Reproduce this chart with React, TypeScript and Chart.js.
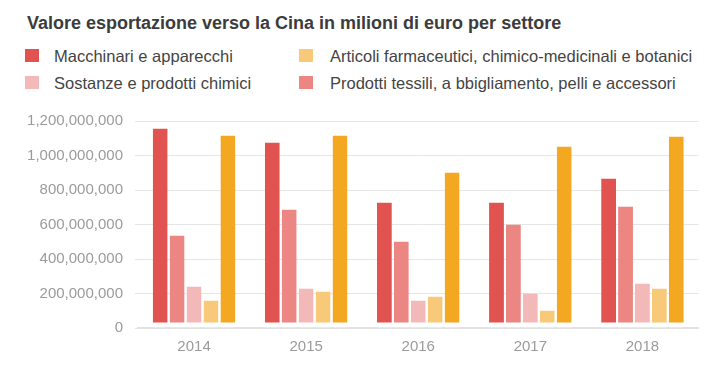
import React, { useEffect, useRef } from 'react';
import { Chart, registerables } from 'chart.js';

Chart.register(...registerables);

const FONT = "'Liberation Sans', Arial, Helvetica, sans-serif";

const titleText = 'Valore esportazione verso la Cina in milioni di euro per settore';

const years = ['2014', '2015', '2016', '2017', '2018'];

const macchinari = [1156000000, 1075000000, 728000000, 728000000, 867000000];
const tessili = [536000000, 687000000, 501000000, 600000000, 704000000];
const sostanze = [241000000, 229000000, 159000000, 200000000, 258000000];
const farmaceutici = [159000000, 212000000, 183000000, 101000000, 229000000];
const altro = [1116000000, 1116000000, 901000000, 1052000000, 1110000000];

const seriesNames = [
  'Macchinari e apparecchi',
  'Prodotti tessili, a bbigliamento, pelli e accessori',
  'Sostanze e prodotti chimici',
  'Articoli farmaceutici, chimico-medicinali e botanici',
  'Altro',
];
const seriesColors = ['#e15351', '#ec8682', '#f3b9b8', '#f7c979', '#f4a720'];
const seriesValues = [macchinari, tessili, sostanze, farmaceutici, altro];

const yMax = 1200000000;
const yStep = 200000000;

// legend layout: [series index, column, row]
const legendItems: [number, number, number][] = [
  [0, 0, 0],
  [3, 1, 0],
  [2, 0, 1],
  [1, 1, 1],
];

export default function App() {
  const ref = useRef<HTMLCanvasElement>(null);

  useEffect(() => {
    const canvas = ref.current;
    if (!canvas) return;
    const chart = new Chart(canvas, {
      type: 'bar',
      data: {
        labels: years,
        datasets: seriesValues.map((vals, i) => ({
          label: seriesNames[i],
          data: vals,
          backgroundColor: seriesColors[i],
          borderColor: '#ffffff',
          borderWidth: { top: 0, left: 0, right: 0, bottom: 5 },
          borderSkipped: false,
          barPercentage: 0.88,
          categoryPercentage: 0.755,
        })),
      },
      options: {
        responsive: false,
        animation: false,
        devicePixelRatio: 1,
        layout: { padding: { left: 25, right: 25.5, top: 121, bottom: 0 } },
        plugins: {
          legend: { display: false },
          title: { display: false },
          tooltip: { enabled: false },
        },
        scales: {
          x: {
            z: 1,
            grid: { display: false, drawTicks: false },
            border: { display: true, color: '#e2e2e2', width: 2 },
            ticks: {
              color: '#9b9b9b',
              font: { family: FONT, size: 15 },
              padding: 10,
            },
            afterFit: (s: any) => {
              s.height = 42;
            },
          },
          y: {
            min: 0,
            max: yMax,
            grid: { color: '#e6e6e6', lineWidth: 1, drawTicks: true, tickLength: 3 },
            border: { display: false },
            ticks: {
              stepSize: yStep,
              color: '#9b9b9b',
              font: { family: FONT, size: 15 },
              padding: 12,
              callback: (v: any) => Number(v).toLocaleString('en-US'),
            },
            afterFit: (s: any) => {
              s.width = 113;
            },
          },
        },
      },
    });
    return () => chart.destroy();
  }, []);

  const colX = [25, 299];
  const textX = [54, 330];
  const rowSquareY = [49, 76];
  const rowTextTop = [46, 73];

  return (
    <div
      style={{
        position: 'fixed',
        left: 0,
        top: 0,
        width: 724,
        height: 370,
        background: '#ffffff',
        overflow: 'hidden',
        fontFamily: FONT,
      }}
    >
      <div
        style={{
          position: 'absolute',
          left: 27,
          top: 13,
          fontSize: 18,
          lineHeight: '20px',
          fontWeight: 'bold',
          color: '#3c3c3c',
          whiteSpace: 'nowrap',
        }}
      >
        {titleText}
      </div>
      {legendItems.map(([si, col, row]) => (
        <React.Fragment key={si}>
          <div
            style={{
              position: 'absolute',
              left: colX[col],
              top: rowSquareY[row],
              width: 14,
              height: 13,
              background: seriesColors[si],
            }}
          />
          <div
            style={{
              position: 'absolute',
              left: textX[col],
              top: rowTextTop[row],
              fontSize: 16.5,
              lineHeight: '20px',
              color: '#444444',
              whiteSpace: 'nowrap',
            }}
          >
            {seriesNames[si]}
          </div>
        </React.Fragment>
      ))}
      <canvas
        ref={ref}
        width={724}
        height={370}
        style={{ position: 'absolute', left: 0, top: 0, display: 'block', width: 724, height: 370 }}
      />
    </div>
  );
}
